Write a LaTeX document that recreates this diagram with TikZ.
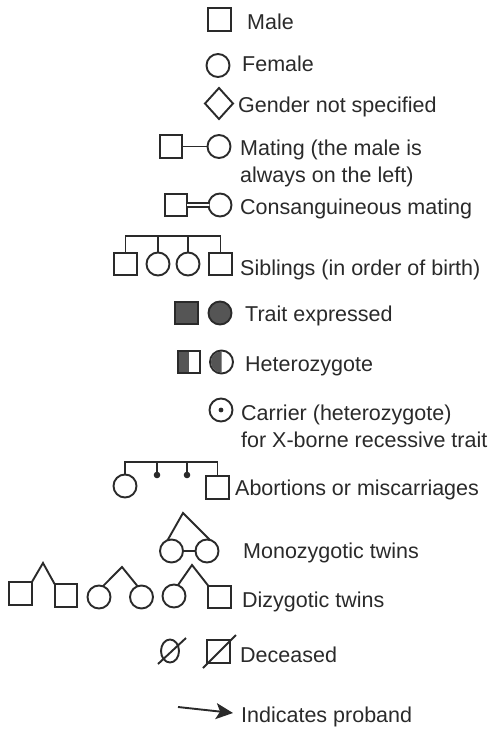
\documentclass[tikz,border=0pt]{standalone}
\usepackage{fontspec}
\setmainfont{Liberation Sans}
\usetikzlibrary{shapes.geometric,arrows.meta,calc}
\definecolor{ink}{HTML}{2A2A2A}
\definecolor{darkfill}{HTML}{555555}
\tikzset{
  sym/.style={draw=ink, line width=1.9pt, inner sep=0pt, outer sep=0pt},
  male/.style={sym, rectangle, minimum size=22.5pt},
  female/.style={sym, circle, minimum size=23pt},
  unknown/.style={sym, diamond, minimum width=28pt, minimum height=31pt},
  lnk/.style={draw=ink, line width=1.9pt},
  lbl/.style={anchor=base west, inner sep=0pt, text=ink, align=left,
              font=\fontsize{21.5}{26.5}\selectfont},
  pt/.style={inner sep=0pt, outer sep=0pt, minimum size=0pt}
}
\begin{document}
\begin{tikzpicture}[x=1pt,y=-1pt]
\useasboundingbox[fill=white] (0,0) rectangle (490,731);

% basic symbols
\node[male] (male) at (219.5,19.5) {};
\node[lbl] (tmale) at (247,29) {Male};
\node[female] (female) at (218,65.5) {};
\node[lbl] (tfemale) at (242,71) {Female};
\node[unknown] (unk) at (219,103.5) {};
\node[lbl] (tunk) at (238,112) {Gender not specified};

% mating (node base = baseline of its last line)
\node[male] (mm) at (171,146.5) {};
\node[female] (mf) at (219,146.5) {};
\draw[lnk] (mm.east) -- (mf.west);
\node[lbl] (tmate) at (240,182) {Mating (the male is\\always on the left)};

% consanguineous mating
\node[male] (cm) at (176,205) {};
\node[female] (cf) at (220,205) {};
\draw[draw=ink, line width=1.7pt, double=white, double distance=2.4pt] (cm.east) -- (cf.west);
\node[lbl] (tcons) at (240,214) {Consanguineous mating};

% siblings
\node[male] (s1) at (125.5,264) {};
\node[female] (s2) at (158,264) {};
\node[female] (s3) at (188,264) {};
\node[male] (s4) at (220.5,264) {};
\coordinate (sb1) at (125.5,236);
\coordinate (sb2) at (158,236);
\coordinate (sb3) at (188,236);
\coordinate (sb4) at (220.5,236);
\draw[lnk, line cap=rect] (sb1) -- (sb4);
\draw[lnk] (sb1) -- (s1.north);
\draw[lnk] (sb2) -- (s2.north);
\draw[lnk] (sb3) -- (s3.north);
\draw[lnk] (sb4) -- (s4.north);
\node[lbl] (tsib) at (240,275) {Siblings (in order of birth)};

% trait expressed
\node[male, fill=darkfill] (am) at (186.5,313) {};
\node[female, fill=darkfill] (af) at (220,313) {};
\node[lbl] (ttrait) at (245,321) {Trait expressed};

% heterozygote: left half filled
\node[male] (hm) at (189,362) {};
\fill[darkfill] ($(hm.north west)+(0.9,0.9)$) rectangle ($(hm.south)+(0,-0.9)$);
\node[female] (hf) at (221.5,362) {};
\begin{scope}
  \clip (200,345) rectangle (221.5,380);
  \fill[darkfill] (hf.center) circle[radius=10.6];
\end{scope}
\node[lbl] (thet) at (245,371) {Heterozygote};

% carrier
\node[female] (car) at (221,410) {};
\fill[ink] (car.center) circle[radius=2.4];
\node[lbl] (tcar) at (241,447) {Carrier (heterozygote)\\for X-borne recessive trait};

% abortions or miscarriages
\node[female] (ab1) at (125,486) {};
\node[pt] (ab2) at (157,475) {};
\node[pt] (ab3) at (187,475) {};
\node[male] (ab4) at (217.5,487.5) {};
\coordinate (abb1) at (125,462);
\coordinate (abb2) at (157,462);
\coordinate (abb3) at (187,462);
\coordinate (abb4) at (217.5,462);
\draw[lnk, line cap=rect] (abb1) -- (abb4);
\draw[lnk] (abb1) -- (ab1.north);
\draw[lnk] (abb2) -- (ab2);
\draw[lnk] (abb3) -- (ab3);
\draw[lnk] (abb4) -- (ab4.north);
\fill[ink] (ab2) circle[radius=3.3];
\fill[ink] (ab3) circle[radius=3.3];
\node[lbl] (tab) at (235,495) {Abortions or miscarriages};

% monozygotic twins
\node[female] (mz1) at (171.5,551) {};
\node[female] (mz2) at (207,551) {};
\coordinate (mzapex) at (183,513);
\draw[lnk, line join=miter] (mz1.110) -- (mzapex) -- (mz2.75);
\draw[lnk] (mz1.east) -- (mz2.west);
\node[lbl] (tmz) at (243,558) {Monozygotic twins};

% dizygotic twins
\node[male] (dz1) at (20.5,593.5) {};
\node[male] (dz2) at (66,595.5) {};
\coordinate (dza) at (43,563);
\draw[lnk, line join=miter] (dz1.north east) -- (dza) -- (dz2.north west);
\node[female] (dz3) at (99,597) {};
\node[female] (dz4) at (141.5,597) {};
\coordinate (dzb) at (122,567);
\draw[lnk, line join=miter] (dz3.70) -- (dzb) -- (dz4.110);
\node[female] (dz5) at (174,596) {};
\node[male] (dz6) at (219.5,597) {};
\coordinate (dzc) at (192,565);
\draw[lnk, line join=miter] (dz5.70) -- (dzc) -- (dz6.north west);
\node[lbl] (tdz) at (242,607) {Dizygotic twins};

% deceased
\node[sym, ellipse, minimum width=18pt, minimum height=23pt] (dc1) at (170,651) {};
\coordinate (dc1a) at (158,664);
\coordinate (dc1b) at (186,638);
\draw[lnk] (dc1a) -- (dc1b);
\node[male] (dc2) at (218.5,651.5) {};
\coordinate (dc2a) at (203,668);
\coordinate (dc2b) at (236,635);
\draw[lnk] (dc2a) -- (dc2b);
\node[lbl] (tdc) at (240,662) {Deceased};

% proband
\coordinate (pa) at (178,707);
\coordinate (pb) at (233,713);
\draw[lnk, -{Stealth[length=17pt,width=16pt,inset=4pt]}] (pa) -- (pb);
\node[lbl] (tpro) at (241,722) {Indicates proband};
\end{tikzpicture}
\end{document}
